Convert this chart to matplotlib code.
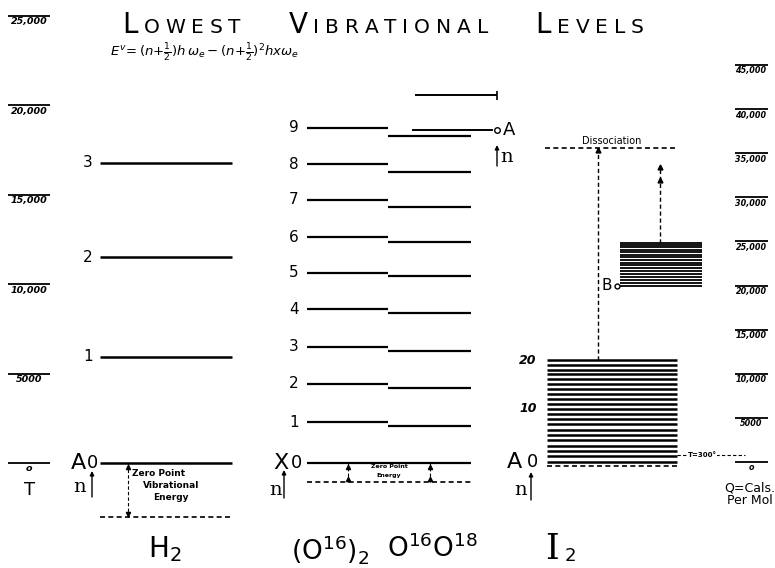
import matplotlib
matplotlib.use("Agg")
import matplotlib.pyplot as plt
from matplotlib.offsetbox import TextArea, HPacker, AnchoredOffsetbox, DrawingArea

W, H = 775, 568

# energy scales (cals per mol)
left_ticks = [0, 5000, 10000, 15000, 20000, 25000]
left_tick_labels = ["o", "5000", "10,000", "15,000", "20,000", "25,000"]
right_ticks = [0, 5000, 10000, 15000, 20000, 25000, 30000, 35000, 40000, 45000]
right_tick_labels = ["o", "5000", "10,000", "15,000", "20,000", "25,000",
                     "30,000", "35,000", "40,000", "45,000"]

# H2 (left scale)
h2_levels = [0, 5930, 11520, 16780]
h2_zero_point = -3020

# O2 (left scale)
o16_levels = [0, 2290, 4420, 6490, 8610, 10630, 12640, 14710, 16720, 18740]
o1618_levels = [0, 2070, 4200, 6260, 8390, 10460, 12360, 14320, 16280, 18290]
o2_zero_point = -1060
o2_upper = [20580, 18620]

# I2 (right scale)
i2_levels = [0, 625, 1245, 1860, 2470, 3075, 3675, 4270, 4860, 5445, 6025,
             6600, 7170, 7735, 8295, 8850, 9400, 9945, 10485, 11020, 11550]
i2_zero_point = -450
i2_thermal = 800
i2_b_levels = [20000, 20340, 20680, 21010, 21340, 21660, 21980, 22290,
               22600, 22900, 23200, 23490, 23780, 24060, 24340, 24610, 24830]
i2_dissociation = 35600
i2_b_arrow = [31970, 33440]

title_words = ["LOWEST", "VIBRATIONAL", "LEVELS"]

fig = plt.figure(figsize=(W / 100, H / 100), dpi=100)
lay = fig.add_axes([0, 0, 1, 1])
lay.set_xlim(0, W)
lay.set_ylim(H, 0)
axL = lay.twinx()
axL.set_ylim(-5872, 25895)
axR = lay.twinx()
axR.set_ylim(-12015, 52368)
for a in (lay, axL, axR):
    a.axis("off")

dash = (0, (3, 2))
tick_font = dict(style="italic", weight="bold", ha="center", va="top")

# scale ticks
axL.hlines(left_ticks, 8, 50, color="k", lw=1.3)
for t, s in zip(left_ticks, left_tick_labels):
    axL.annotate(s, (29, t), xytext=(0, -1), textcoords="offset points", fontsize=6.8,
                 **tick_font)
axR.hlines(right_ticks, 735, 768, color="k", lw=1.3)
for t, s in zip(right_ticks, right_tick_labels):
    axR.annotate(s, (751, t), xytext=(0, -1), textcoords="offset points", fontsize=5.8,
                 **tick_font)
lay.text(30, 490, "T", fontsize=13, ha="center", va="center")
lay.text(750, 488, "Q=Cals.", fontsize=9, ha="center", va="center")
lay.text(750, 501, "Per Mol", fontsize=9, ha="center", va="center")

# title (small caps) and formula
kids = []
for i, w in enumerate(title_words):
    if i:
        kids.append(DrawingArea(26, 1))
    kids.append(TextArea(w[0], textprops=dict(size=20)))
    for ch in w[1:]:
        kids.append(TextArea(ch, textprops=dict(size=14.5)))
box = HPacker(children=kids, align="baseline", pad=0, sep=4.2)
fig.add_artist(AnchoredOffsetbox(loc="upper center", child=box, frameon=False, pad=0,
                                 bbox_to_anchor=(383 / W, 1 - 4 / H),
                                 bbox_transform=fig.transFigure))
lay.text(110, 53, r"$E^{v}\!=(n{+}\frac{1}{2})h\,\omega_e-(n{+}\frac{1}{2})^2hx\omega_e$",
         fontsize=9.5, ha="left", va="center")

# H2
axL.hlines(h2_levels, 100, 232, color="k", lw=1.8)
axL.hlines(h2_zero_point, 100, 233, color="k", lw=1.2, linestyles=[dash])
for n, e in enumerate(h2_levels[1:], start=1):
    axL.text(88, e, str(n), fontsize=11, ha="center", va="center")
axL.text(78, 0, "A", fontsize=16, ha="center", va="center")
axL.text(93, 0, "0", fontsize=13, ha="center", va="center")
axL.vlines(128, h2_zero_point, 0, color="k", lw=0.8, linestyles=[dash])
axL.plot([128], [-250], marker="^", ms=3, color="k")
axL.plot([128], [h2_zero_point + 150], marker="v", ms=3, color="k")
lay.text(132, 474, "Zero Point", fontsize=6.5, weight="bold", ha="left", va="center")
lay.text(143, 486, "Vibrational", fontsize=6.5, weight="bold", ha="left", va="center")
lay.text(153, 497, "Energy", fontsize=6.5, weight="bold", ha="left", va="center")
lay.text(80, 487, "n", fontsize=14, family="DejaVu Serif", ha="center", va="center")
lay.annotate("", (92, 471), (92, 497), arrowprops=dict(arrowstyle="-|>", lw=1, color="k",
                                                       mutation_scale=6, shrinkA=0, shrinkB=0))

# O2
axL.hlines(o16_levels, 307, 388, color="k", lw=1.6)
axL.hlines(o1618_levels, 388, 471, color="k", lw=1.6)
axL.hlines(o2_zero_point, 307, 471, color="k", lw=1.2, linestyles=[dash])
for n, e in enumerate(o16_levels[1:], start=1):
    axL.text(294, e, str(n), fontsize=11, ha="center", va="center")
axL.text(281, 0, "X", fontsize=16, ha="center", va="center")
axL.text(297, 0, "0", fontsize=13, ha="center", va="center")
for x in (348, 430):
    axL.vlines(x, o2_zero_point, 0, color="k", lw=0.8, linestyles=[dash])
    axL.plot([x], [-200], marker="^", ms=3, color="k")
    axL.plot([x], [o2_zero_point + 150], marker="^", ms=3, color="k")
lay.text(389, 467, "Zero Point", fontsize=4.5, weight="bold", ha="center", va="center")
lay.text(389, 475, "Energy", fontsize=4.5, weight="bold", ha="center", va="center")
lay.text(276, 490, "n", fontsize=14, family="DejaVu Serif", ha="center", va="center")
lay.annotate("", (284, 470), (284, 498), arrowprops=dict(arrowstyle="-|>", lw=1, color="k",
                                                         mutation_scale=6, shrinkA=0, shrinkB=0))
axL.hlines(o2_upper, [415, 412], [497, 493], color="k", lw=1.4)
axL.vlines(497, o2_upper[0] - 250, o2_upper[0] + 200, color="k", lw=1.2)
axL.plot([497], [o2_upper[1]], marker="o", ms=4, mfc="white", mec="k", mew=1)
axL.text(503, o2_upper[1], "A", fontsize=13, ha="left", va="center")
lay.text(507, 157, "n", fontsize=14, family="DejaVu Serif", ha="center", va="center")
lay.annotate("", (497, 145), (497, 166), arrowprops=dict(arrowstyle="-|>", lw=1, color="k",
                                                         mutation_scale=6, shrinkA=0, shrinkB=0))

# I2
axR.hlines(i2_levels, 547, 677, color="k", lw=1.8)
axR.hlines(i2_zero_point, 547, 677, color="k", lw=1.2, linestyles=[dash])
axR.text(528, i2_levels[20], "20", fontsize=9, weight="bold", style="italic",
         ha="center", va="center")
axR.text(528, i2_levels[10], "10", fontsize=9, weight="bold", style="italic",
         ha="center", va="center")
axR.text(514, 0, "A", fontsize=16, ha="center", va="center")
axR.text(532, 0, "0", fontsize=13, ha="center", va="center")
lay.text(521, 490, "n", fontsize=14, family="DejaVu Serif", ha="center", va="center")
lay.annotate("", (531, 472), (531, 500), arrowprops=dict(arrowstyle="-|>", lw=1, color="k",
                                                         mutation_scale=6, shrinkA=0, shrinkB=0))
axR.hlines(i2_thermal, 677, 745, color="k", lw=0.8, linestyles=[dash])
axR.text(702, i2_thermal, "T=300°", fontsize=5, weight="bold", ha="center", va="center",
         bbox=dict(facecolor="white", edgecolor="none", pad=0.5))

axR.hlines(i2_b_levels, 620, 702, color="k", lw=1.3)
axR.text(607, i2_b_levels[0], "B", fontsize=11, ha="center", va="center")
axR.plot([617], [i2_b_levels[0]], marker="o", ms=3.5, mfc="white", mec="k", mew=1)

axR.hlines(i2_dissociation, 545, 678, color="k", lw=1.2, linestyles=[dash])
axR.annotate("Dissociation", (612, i2_dissociation), xytext=(0, 1.5),
             textcoords="offset points", fontsize=7, ha="center", va="bottom")
axR.vlines(598, i2_levels[20], i2_dissociation, color="k", lw=1, linestyles=[dash])
axR.plot([598], [i2_dissociation - 250], marker="^", ms=3.5, color="k")
axR.vlines(660, i2_b_levels[-1], i2_b_arrow[1], color="k", lw=1, linestyles=[dash])
axR.plot([660, 660], i2_b_arrow, marker="^", ms=3.5, color="k", lw=0)

# molecule names
lay.text(165, 549, r"H$_2$", fontsize=20, ha="center", va="center")
lay.text(330, 549, r"(O$^{16}$)$_2$", fontsize=19, ha="center", va="center")
lay.text(432, 549, r"O$^{16}$O$^{18}$", fontsize=19, ha="center", va="center")
lay.text(552, 549, r"I", fontsize=25, family="DejaVu Serif", ha="center", va="center")
lay.text(570, 556, r"2", fontsize=13, ha="center", va="center")

fig.savefig("out.png", dpi=100)
